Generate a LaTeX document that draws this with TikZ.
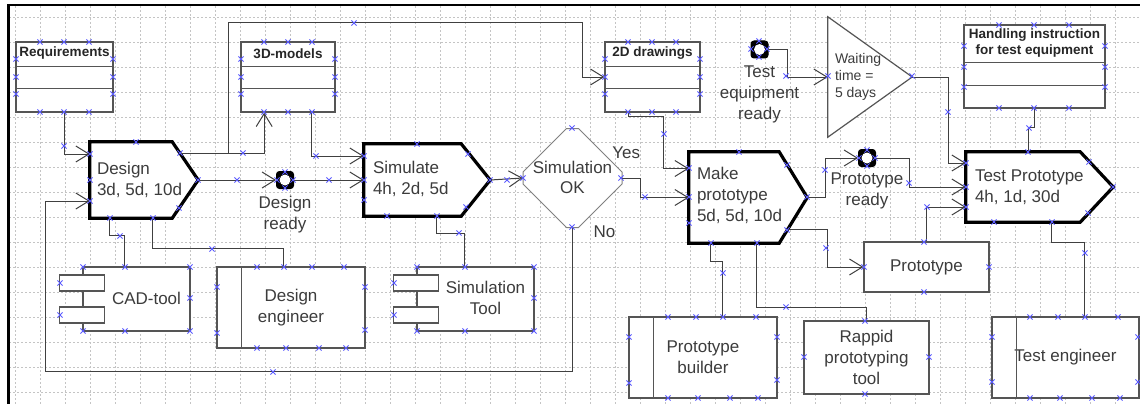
\documentclass[tikz,border=0pt]{standalone}
\usepackage{fontspec}
\setmainfont{Liberation Sans}
\usetikzlibrary{arrows.meta,calc,positioning}
\definecolor{lngray}{HTML}{404040}
\definecolor{boxgray}{HTML}{555555}
\definecolor{txtgray}{HTML}{3C3C3C}
\definecolor{gridgray}{HTML}{C4C4C4}
\definecolor{cpblue}{HTML}{5A5AFF}
\tikzset{
  conn/.style={draw=lngray, line width=1pt, -{Straight Barb[length=13pt,width=16pt]}},
  link/.style={draw=lngray, line width=1pt},
  gridln/.style={draw=gridgray, line width=0.8pt, dash pattern=on 2pt off 2pt},
  body/.style={inner sep=0pt},
  proc/.style={draw=black, line width=3.2pt, fill=white, line join=miter},
  proctext/.style={anchor=west, align=left, inner sep=0pt, text=txtgray, font=\fontsize{17}{21}\selectfont},
  lbl/.style={align=center, inner sep=0pt, text=txtgray, font=\fontsize{17}{21}\selectfont},
  databox/.style={draw=boxgray, line width=1.3pt, fill=white, inner sep=0pt},
  boxln/.style={draw=boxgray, line width=1.3pt},
  dbtitle/.style={align=center, inner sep=0pt, text=black!85, font=\bfseries\fontsize{13.5}{16}\selectfont},
  rolebox/.style={draw=boxgray, line width=1.3pt, fill=white, inner sep=0pt, align=center, text=txtgray, font=\fontsize{17}{21}\selectfont},
  tabbox/.style={draw=boxgray, line width=1.3pt, fill=white},
  event/.style={draw=black, fill=black, line width=1pt, rounded corners=3pt, minimum size=17pt, inner sep=0pt,
    path picture={\fill[white] (path picture bounding box.center) circle (5.5pt);}},
  decln/.style={draw=gray, line width=1pt, fill=white},
  cpx/.pic={\draw[cpblue, line width=0.9pt] (-2.6,-2.6) -- (2.6,2.6) (-2.6,2.6) -- (2.6,-2.6);}
}
\begin{document}
\begin{tikzpicture}[x=1pt, y=-1pt]
  \useasboundingbox (0,0) rectangle (1140,404);
  \fill[white] (0,0) rectangle (1140,404);
  \foreach \gx in {15,40,...,1140} \draw[gridln] (\gx,6) -- (\gx,404);
  \foreach \gy in {17,42,...,404} \draw[gridln] (9,\gy) -- (1140,\gy);
  \draw[black, line width=2.5pt] (8.5,404) -- (8.5,5) -- (1140,5);

  % data objects
  \node[databox, minimum width=97pt, minimum height=70pt] (req) at (64.5,77) {};
  \node[databox, minimum width=94pt, minimum height=70pt] (models3d) at (288,77) {};
  \node[databox, minimum width=95pt, minimum height=70pt] (draw2d) at (652.5,77) {};
  \node[databox, minimum width=141pt, minimum height=83pt] (handling) at (1034.5,66.5) {};
  \foreach \b in {req,models3d,draw2d}
    \draw[boxln] ($(\b.north west)+(0,25)$) -- ($(\b.north east)+(0,25)$)
                 ($(\b.north west)+(0,47)$) -- ($(\b.north east)+(0,47)$);
  \draw[boxln] ($(handling.north west)+(0,38)$) -- ($(handling.north east)+(0,38)$)
               ($(handling.north west)+(0,61)$) -- ($(handling.north east)+(0,61)$);
  \node[dbtitle] (reqtitle) at ($(req.north)+(0,12)$) {Requirements};
  \node[dbtitle] (models3dtitle) at ($(models3d.north)+(0,12)$) {3D-models};
  \node[dbtitle] (draw2dtitle) at ($(draw2d.north)+(0,12)$) {2D drawings};
  \node[dbtitle] (handlingtitle) at ($(handling.north)+(0,19)$) {Handling instruction\\for test equipment};

  % processes
  \node[body, minimum width=82pt, minimum height=76pt] (design) at (131,180) {};
  \coordinate (design tip) at ($(design.east)+(26,0)$);
  \draw[proc] (design.north west) -- (design.north east) -- (design tip) -- (design.south east) -- (design.south west) -- cycle;
  \node[proctext] (designtxt) at ($(design.west)+(7,0)$) {Design\\3d, 5d, 10d};

  \node[body, minimum width=97pt, minimum height=72pt] (simulate) at (412.5,180) {};
  \coordinate (simulate tip) at ($(simulate.east)+(29,0)$);
  \draw[proc] (simulate.north west) -- (simulate.north east) -- (simulate tip) -- (simulate.south east) -- (simulate.south west) -- cycle;
  \node[proctext] (simulatetxt) at ($(simulate.west)+(9,-1)$) {Simulate\\4h, 2d, 5d};

  \node[body, minimum width=90pt, minimum height=91pt] (make) at (734,197.5) {};
  \coordinate (make tip) at ($(make.east)+(28,0)$);
  \draw[proc] (make.north west) -- (make.north east) -- (make tip) -- (make.south east) -- (make.south west) -- cycle;
  \node[proctext] (maketxt) at ($(make.west)+(8,-2)$) {Make\\prototype\\5d, 5d, 10d};

  \node[body, minimum width=114pt, minimum height=70pt] (testproto) at (1023,187) {};
  \coordinate (testproto tip) at ($(testproto.east)+(33,0)$);
  \draw[proc] (testproto.north west) -- (testproto.north east) -- (testproto tip) -- (testproto.south east) -- (testproto.south west) -- cycle;
  \node[proctext] (testprototxt) at ($(testproto.west)+(9,0)$) {Test Prototype\\4h, 1d, 30d};

  % decision
  \node[body, minimum size=99pt] (simok) at (572.5,178) {};
  \draw[decln, shift={(simok.center)}] (-6,-49.5) -- (6,-49.5) -- (49.5,-6) -- (49.5,6) -- (6,49.5) -- (-6,49.5) -- (-49.5,6) -- (-49.5,-6) -- cycle;
  \node[lbl, font=\fontsize{17}{20}\selectfont] (simoktxt) at ($(simok.center)+(0,-1)$) {Simulation\\OK};
  \node[lbl] (yeslbl) at ($(simok.east)+(4,-25)$) {Yes};
  \node[lbl] (nolbl) at ($(simok.south)+(32,4)$) {No};

  % events and wait
  \node[event] (desready) at (285,180) {};
  \node[lbl, below=7pt of desready] (desreadytxt) {Design\\ready};
  \node[event] (testready) at (759.5,49.5) {};
  \node[lbl, below=7pt of testready] (testreadytxt) {Test\\equipment\\ready};
  \node[event] (protoready) at (867,158) {};
  \node[lbl, below=6pt of protoready] (protoreadytxt) {Prototype\\ready};

  \node[body, minimum width=84pt, minimum height=120pt] (wait) at (870,77) {};
  \draw[decln, draw=boxgray, line width=1.2pt] (wait.north west) -- (wait.east) -- (wait.south west) -- cycle;
  \node[proctext, font=\fontsize{14}{17}\selectfont] (waittxt) at ($(wait.west)+(7,0)$) {Waiting\\time =\\5 days};

  % resources
  \node[databox, minimum width=107pt, minimum height=64pt] (cad) at (136.5,299) {};
  \draw[tabbox] ($(cad.west)+(-23,-24)$) rectangle ($(cad.west)+(22,-8)$);
  \draw[tabbox] ($(cad.west)+(-23,8)$) rectangle ($(cad.west)+(22,24)$);
  \node[lbl] (cadtxt) at ($(cad.center)+(10,-1)$) {CAD-tool};

  \node[databox, minimum width=117pt, minimum height=64pt] (simtool) at (475.5,299) {};
  \draw[tabbox] ($(simtool.west)+(-23,-24)$) rectangle ($(simtool.west)+(22,-8)$);
  \draw[tabbox] ($(simtool.west)+(-23,8)$) rectangle ($(simtool.west)+(22,24)$);
  \node[lbl] (simtooltxt) at ($(simtool.center)+(10,-1)$) {Simulation\\Tool};

  \node[rolebox, minimum width=148pt, minimum height=81pt] (deseng) at (291,307.5) {Design\\engineer};
  \draw[boxln] ($(deseng.north west)+(25,0)$) -- ($(deseng.south west)+(25,0)$);
  \node[rolebox, minimum width=148pt, minimum height=81pt] (builder) at (703,357.5) {Prototype\\builder};
  \draw[boxln] ($(builder.north west)+(25,0)$) -- ($(builder.south west)+(25,0)$);
  \node[rolebox, minimum width=147pt, minimum height=81pt] (testeng) at (1065.5,357.5) {Test engineer};
  \draw[boxln] ($(testeng.north west)+(25,0)$) -- ($(testeng.south west)+(25,0)$);
  \node[rolebox, line width=1.8pt, minimum width=125pt, minimum height=73pt] (rappid) at (866.5,357.5) {Rappid\\prototyping\\tool};
  \node[rolebox, minimum width=125pt, minimum height=50pt] (proto) at (926.5,267) {Prototype};

  % connectors
  \coordinate (design ur) at ($(design.north east)!0.3!(design tip)$);
  \coordinate (branch) at ($(design ur)+(48,0)$);
  \coordinate (make lr) at ($(make tip)!0.7!(make.south east)$);
  \draw[conn] (req.south) |- ($(design.west)+(0,-26)$);
  \draw[conn] (design ur) -| ($(models3d.south west)!0.25!(models3d.south east)$);
  \draw[conn] (branch) |- ($(draw2d.west)+(-22,-54)$) |- (draw2d.west);
  \draw[conn] ($(models3d.south west)!0.75!(models3d.south east)$) |- ($(simulate.west)+(0,-24)$);
  \draw[conn] (design tip) -- (desready.west);
  \draw[conn] (desready.east) -- (simulate.west);
  \draw[conn] (simulate tip) -- (simok.west);
  \draw[conn] (simok.east) -- ++(18,0) |- (make.west);
  \draw[conn] (simok.south) -- ++(0,144) -| ($(design.west)+(-44,21)$) -- ($(design.west)+(0,21)$);
  \draw[conn] ($(draw2d.south west)!0.25!(draw2d.south east)$) -- ++(0,4) -| ($(make.west)+(-25,-29)$) -- ($(make.west)+(0,-29)$);
  \draw[conn] (testready.east) -- ++(19,0) |- (wait.west);
  \draw[conn] (wait.east) -- ++(36,0) |- ($(testproto.west)+(0,-24)$);
  \draw[conn] (make tip) -- ++(18,0) |- (protoready.west);
  \draw[conn] (protoready.east) -- ++(33,0) |- (testproto.west);
  \draw[conn] (proto.north) |- ($(testproto.west)+(0,20)$);
  \draw[conn] (make lr) -- ++(40,0) |- (proto.west);
  \draw[link] (handling.south) -- ++(0,19) -| ($(testproto.north)+(5,0)$);
  \draw[link] ($(design.south west)+(20,0)$) -- ++(0,17) -| ($(cad.north west)+(42,0)$);
  \draw[link] ($(design.south west)+(63,0)$) -- ++(0,30) -| ($(deseng.north west)+(67,0)$);
  \draw[link] ($(simulate.south west)+(73,0)$) -- ++(0,17) -| ($(simtool.north west)+(48,0)$);
  \draw[link] ($(make.south west)+(22,0)$) -- ++(0,18) -| ($(builder.north west)+(94,0)$);
  \draw[link] ($(make.south west)+(68,0)$) -- ++(0,64) -| (rappid.north);
  \draw[link] ($(testproto.south west)+(86,0)$) -- ++(0,20) -| ($(testeng.north west)+(93,0)$);

  % connection points
  \foreach \mx/\my in {40/42, 64/42, 89/42, 16/59, 16/77, 16/94, 113/59, 113/77, 113/94, 40/112, 64/112, 89/112,
      264/42, 288/42, 312/42, 241/59, 241/77, 241/94, 335/59, 335/77, 335/94, 264/112, 288/112, 312/112,
      628/42, 652/42, 676/42, 605/59, 605/77, 605/94, 700/59, 700/77, 700/94, 628/112, 652/112, 676/112,
      999/25, 1034/25, 1069/25, 964/46, 964/67, 964/87, 1105/46, 1105/67, 1105/87, 999/108, 1034/108, 1069/108,
      136/142, 180/153, 198/180, 179/208, 110/218, 153/218, 90/154, 90/180, 90/201,
      417/144, 468/154, 490/180, 466/207, 364/156, 364/180, 364/200, 387/216, 437/216,
      739/152, 787/165, 807/197, 787/230, 689/168, 689/197, 689/223, 711/243, 757/243,
      1028/152, 1089/162, 1113/187, 1088/213, 966/163, 966/187, 966/207, 994/222, 1052/222,
      572/128, 523/178, 621/178, 572/227,
      285/172, 277/180, 293/180, 285/188, 759/41, 751/49, 767/49, 759/57, 867/150, 859/158, 875/158, 867/166,
      828/76, 912/76,
      64/146, 354/23, 243/153, 316/156, 237/180, 329/180, 507/180, 645/197, 664/134, 786/76, 948/112, 1029/128,
      825/170, 909/183, 927/207, 826/248, 1085/253, 786/307, 723/273, 459/233, 120/236, 212/249, 273/372,
      924/242, 989/267, 924/292, 864/267,
      1030/317, 1058/317, 1085/317, 1118/317, 992/337, 992/382, 1030/398, 1060/398, 1092/398, 1120/398, 1138/337, 1138/382,
      865/321, 804/357, 929/357, 865/394,
      668/317, 696/317, 723/317, 756/317, 629/337, 629/383, 777/337, 777/380, 668/398, 698/398, 730/398, 758/398,
      257/267, 284/267, 312/267, 344/267, 217/287, 217/333, 365/287, 365/330, 257/348, 286/348, 319/348, 346/348,
      417/267, 465/267, 534/267, 534/298, 417/331, 465/331, 534/331, 394/283, 394/315,
      83/267, 125/267, 190/267, 190/298, 83/331, 125/331, 190/331, 60/283, 60/315}
    \pic at (\mx,\my) {cpx};
\end{tikzpicture}
\end{document}
